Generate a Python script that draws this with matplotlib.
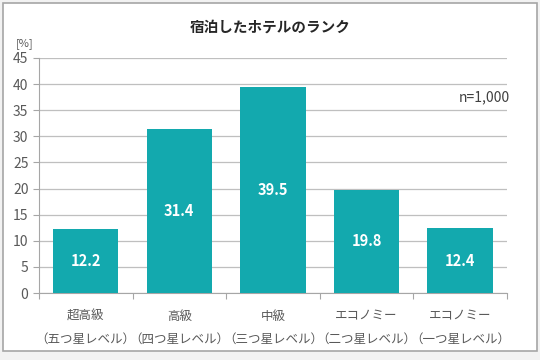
import matplotlib
matplotlib.use('Agg')
import matplotlib.pyplot as plt
from matplotlib.patches import Rectangle

plt.rcParams['font.family'] = ['Noto Sans CJK JP', 'DejaVu Sans']

# データ
categories = ['超高級\n（五つ星レベル）', '高級\n（四つ星レベル）', '中級\n（三つ星レベル）',
              'エコノミー\n（二つ星レベル）', 'エコノミー\n（一つ星レベル）']
values = [12.2, 31.4, 39.5, 19.8, 12.4]
yticks = [0, 5, 10, 15, 20, 25, 30, 35, 40, 45]

bar_color = '#13A9AE'
text_color = '#595959'

fig = plt.figure(figsize=(5.4, 3.6), dpi=100)
fig.patch.set_facecolor('#F2F2F2')
# 白い枠
fig.patches.append(Rectangle((0.006, 0.025), 0.988, 0.967, transform=fig.transFigure,
                             facecolor='white', edgecolor='#A6A6A6', linewidth=1.2, zorder=-10))

ax = fig.add_axes([0.072, 0.186, 0.867, 0.653])
ax.set_zorder(5)
ax.set_facecolor('none')

x = range(len(values))
bars = ax.bar(x, values, width=0.7, color=bar_color, zorder=3)
for i, v in enumerate(values):
    ax.text(i, v / 2, f'{v:.1f}', ha='center', va='center', color='white',
            fontsize=10.5, fontweight='bold', zorder=4)

ax.set_xlim(-0.5, len(values) - 0.5)
ax.set_ylim(0, 45)
ax.set_yticks(yticks)
ax.set_xticks([i + 0.5 for i in range(-1, len(values))], minor=False)
ax.set_xticklabels([])
ax.set_xticks(list(x), minor=True)
ax.set_xticklabels(categories, minor=True, fontsize=9, color=text_color, linespacing=2.0)
ax.tick_params(axis='x', which='minor', length=0, pad=12)
ax.tick_params(axis='x', which='major', length=4, color='#A6A6A6', direction='out')
ax.tick_params(axis='y', labelsize=10, colors=text_color, length=4, direction='out')
ax.tick_params(axis='y', color='#A6A6A6')

ax.grid(axis='y', color='#BFBFBF', linewidth=0.9, zorder=0)
for s in ['top', 'right']:
    ax.spines[s].set_visible(False)
ax.spines['left'].set_color('#A6A6A6')
ax.spines['bottom'].set_color('#A6A6A6')

fig.text(0.5, 0.925, '宿泊したホテルのランク', ha='center', va='center',
         fontsize=10.5, fontweight='bold', color='#262626')
fig.text(0.045, 0.878, '[%]', ha='center', va='center', fontsize=8, color=text_color)
ax.text(1.005, 0.834, 'n=1,000', transform=ax.transAxes, ha='right', va='center',
        fontsize=10, color='#404040')

fig.savefig('out.png', dpi=100, facecolor=fig.get_facecolor())
